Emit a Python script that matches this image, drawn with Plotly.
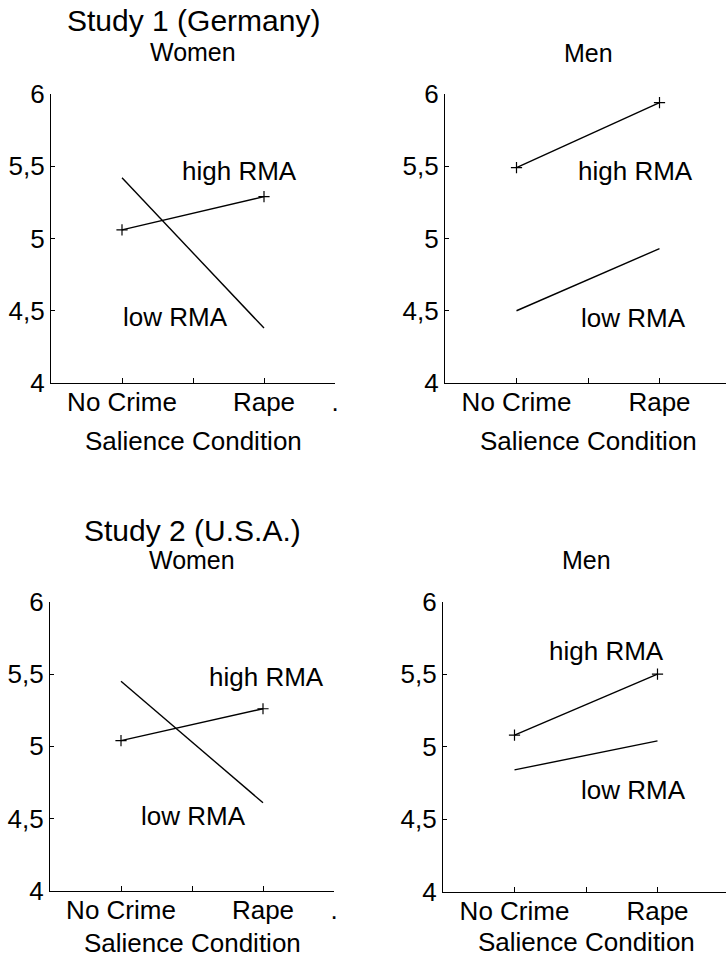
import plotly.graph_objects as go

# ---- data ----
conditions = ["No Crime", "Rape"]
cond_pos = [1, 3]
x_tickvals = [1, 2, 3, 4]
x_ticktext_left = ["No Crime", "", "Rape", "."]
x_ticktext_right = ["No Crime", "", "Rape", ""]

y_tickvals = [4, 4.5, 5, 5.5, 6]
y_ticktext = ["4", "4,5", "5", "5,5", "6"]

s1_women_high = [5.06, 5.29]
s1_women_low = [5.42, 4.38]
s1_men_high = [5.49, 5.94]
s1_men_low = [4.50, 4.93]
s2_women_high = [5.04, 5.26]
s2_women_low = [5.45, 4.61]
s2_men_high = [5.08, 5.50]
s2_men_low = [4.84, 5.04]

W, H = 726, 957
FONT = "Liberation Sans, Arial, sans-serif"

fig = go.Figure()

panels = [
    ("x", "y", s1_women_high, s1_women_low, (51, 335), (94, 383), 4.0, x_ticktext_left),
    ("x2", "y2", s1_men_high, s1_men_low, (445, 726), (94, 383), 281 / 71.5, x_ticktext_right),
    ("x3", "y3", s2_women_high, s2_women_low, (50, 334), (601.7, 891), 4.0, x_ticktext_left),
    ("x4", "y4", s2_men_high, s2_men_low, (443, 726), (601.7, 891.7), 283 / 71.5, x_ticktext_right),
]

for i, (xa, ya, hi, lo, xd, yd, xmax, ttext) in enumerate(panels):
    fig.add_trace(go.Scatter(
        x=cond_pos, y=hi, mode="lines+markers", xaxis=xa, yaxis=ya,
        line=dict(color="black", width=1.4),
        marker=dict(symbol="cross-thin", size=8, line=dict(color="black", width=1.2)),
        showlegend=False, name="high RMA"))
    fig.add_trace(go.Scatter(
        x=cond_pos, y=lo, mode="lines", xaxis=xa, yaxis=ya,
        line=dict(color="black", width=1.4),
        showlegend=False, name="low RMA"))
    suffix = "" if i == 0 else str(i + 1)
    fig.layout["xaxis" + suffix] = dict(
        domain=[xd[0] / W, xd[1] / W], range=[0, xmax],
        tickvals=x_tickvals, ticktext=ttext,
        showline=True, linecolor="black", linewidth=1.2,
        ticks="inside", ticklen=5, tickcolor="black", tickwidth=1,
        showgrid=False, zeroline=False, fixedrange=True, automargin=False,
        tickfont=dict(family=FONT, size=26, color="black"),
        ticklabelstandoff=-4,
        anchor=ya,
    )
    fig.layout["yaxis" + suffix] = dict(
        domain=[1 - yd[1] / H, 1 - yd[0] / H], range=[4, 6],
        tickvals=y_tickvals, ticktext=y_ticktext,
        showline=True, linecolor="black", linewidth=1.2,
        ticks="inside", ticklen=4, tickcolor="black", tickwidth=1,
        showgrid=False, zeroline=False, fixedrange=True, automargin=False,
        tickfont=dict(family=FONT, size=26, color="black"),
        ticklabelstandoff=0,
        anchor=xa,
    )

annotations = []

def txt(text, x, y, xref, yref, size=26):
    annotations.append(dict(text=text, x=x, y=y, xref=xref, yref=yref,
                            showarrow=False, xanchor="center", yanchor="middle",
                            font=dict(family=FONT, size=size, color="black")))

# study titles and panel titles (centred over the 0..4 axis span)
txt("Study 1 (Germany)", 2, 1 - 20 / H, "x", "paper", 30)
txt("Women", 2, 1 - 52 / H, "x", "paper", 25)
txt("Men", 2, 1 - 53 / H, "x2", "paper", 25)
txt("Study 2 (U.S.A.)", 2, 1 - 530 / H, "x3", "paper", 30)
txt("Women", 2, 1 - 560 / H, "x3", "paper", 25)
txt("Men", 2, 1 - 560 / H, "x4", "paper", 25)

# axis titles
txt("Salience Condition", 2, 1 - 441 / H, "x", "paper")
txt("Salience Condition", 2, 1 - 441 / H, "x2", "paper")
txt("Salience Condition", 2, 1 - 943 / H, "x3", "paper")
txt("Salience Condition", 2, 1 - 942 / H, "x4", "paper")

# line labels
txt("high RMA", 2.66, 5.47, "x", "y")
txt("low RMA", 1.75, 4.46, "x", "y")
txt("high RMA", 2.66, 5.47, "x2", "y2")
txt("low RMA", 2.64, 4.45, "x2", "y2")
txt("high RMA", 3.05, 5.48, "x3", "y3")
txt("low RMA", 2.02, 4.52, "x3", "y3")
txt("high RMA", 2.28, 5.66, "x4", "y4")
txt("low RMA", 2.67, 4.70, "x4", "y4")

fig.update_layout(
    template="none",
    width=W, height=H,
    margin=dict(l=0, r=0, t=0, b=0, pad=0),
    paper_bgcolor="white", plot_bgcolor="white",
    font=dict(family=FONT, color="black"),
    annotations=annotations,
)

fig.write_html(
    "out.html",
    config={"displayModeBar": False},
    post_script="document.body.style.margin='0';document.body.style.overflow='hidden';",
)
